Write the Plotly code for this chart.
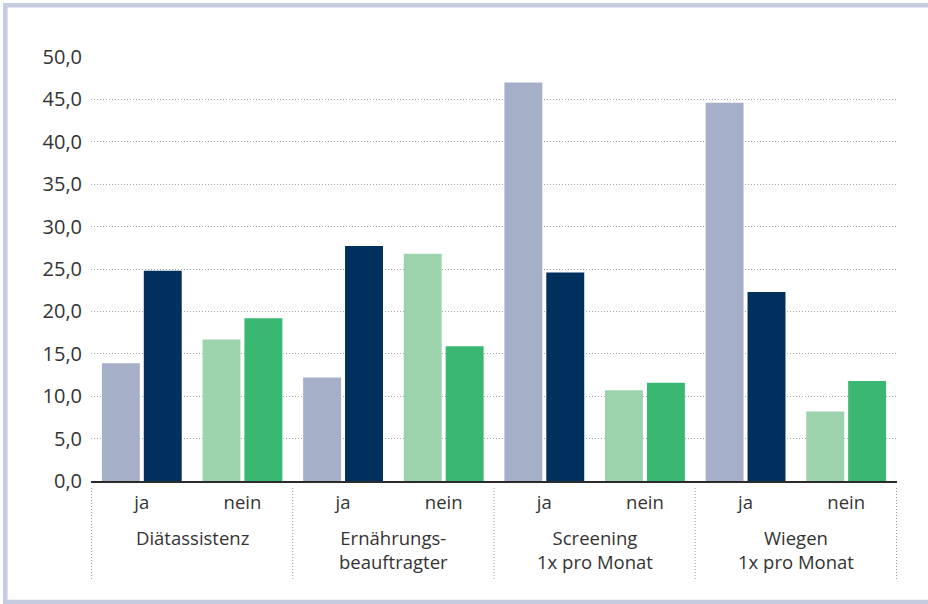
import plotly.graph_objects as go

# ---- data ----
groups = ["Diätassistenz", "Ernährungs-<br>beauftragter", "Screening<br>1x pro Monat", "Wiegen<br>1x pro Monat"]
answers = ["ja", "nein"]
series_a = [13.9, 16.7, 12.2, 26.8, 47.0, 10.7, 44.6, 8.2]   # lighter bars
series_b = [24.8, 19.2, 27.7, 15.9, 24.6, 11.6, 22.3, 11.8]  # darker bars
y_ticks = [0, 5, 10, 15, 20, 25, 30, 35, 40, 45, 50]

# colours: ja -> blue tones, nein -> green tones
colors_a = {"ja": "#a6afc8", "nein": "#9dd3ac"}
colors_b = {"ja": "#00305e", "nein": "#3ab770"}

cats = [f"{g}|{a}" for g in groups for a in answers]
tick_text = [a for g in groups for a in answers]
col_a = [colors_a[a] for g in groups for a in answers]
col_b = [colors_b[a] for g in groups for a in answers]

FONT = "Open Sans"
TXT = "#333333"

fig = go.Figure()
fig.add_trace(go.Bar(x=cats, y=series_a, marker=dict(color=col_a, line=dict(width=0)), name="Serie 1"))
fig.add_trace(go.Bar(x=cats, y=series_b, marker=dict(color=col_b, line=dict(width=0)), name="Serie 2"))

W, H = 928, 604
ml, mr, mt, mb = 91, 31, 57, 123
pw, ph = W - ml - mr, H - mt - mb

def px_x(x):
    return (x - ml) / pw

def px_y(y):
    return (H - mb - y) / ph

shapes = []
# frame (left, top, bottom)
shapes.append(dict(type="rect", xref="paper", yref="paper",
                   x0=px_x(5.3), x1=px_x(940), y0=px_y(602), y1=px_y(5.2),
                   line=dict(color="#c6cce0", width=4.5), fillcolor="rgba(0,0,0,0)", layer="below"))
# group dividers
n = len(answers)
for i in range(len(groups) + 1):
    xv = i * n - 0.5
    shapes.append(dict(type="line", xref="x", yref="paper", x0=xv, x1=xv,
                       y0=px_y(488), y1=px_y(580),
                       line=dict(color="#9a9a9a", width=1, dash="1px,2px")))

annotations = []
for i, g in enumerate(groups):
    annotations.append(dict(x=i * n + (n - 1) / 2, xref="x", y=px_y(523), yref="paper",
                            text=g, showarrow=False, xanchor="center", yanchor="top",
                            align="center", font=dict(family=FONT, size=18.5, color=TXT)))

fig.update_layout(
    width=W, height=H,
    margin=dict(l=ml, r=mr, t=mt, b=mb, pad=0),
    paper_bgcolor="white", plot_bgcolor="white",
    barmode="group", bargap=0.167, bargroupgap=0.095,
    showlegend=False,
    separators=",.",
    font=dict(family=FONT, color=TXT),
    shapes=shapes, annotations=annotations,
    xaxis=dict(type="category", tickvals=cats, ticktext=tick_text,
               showgrid=False, showline=True, linecolor="#2b2b2b", linewidth=2,
               ticks="", tickfont=dict(family=FONT, size=18.5, color=TXT),
               ticklabelstandoff=4, zeroline=False),
    yaxis=dict(range=[0, 50], tickvals=y_ticks, tickformat=".1f",
               showgrid=True, gridcolor="#a8a8a8", griddash="1px,2px", gridwidth=1,
               zeroline=False, showline=False, ticks="",
               tickfont=dict(family=FONT, size=20, color=TXT),
               ticklabelstandoff=8),
)

fig.write_html("out.html", config={"displayModeBar": False},
               post_script="document.body.style.margin='0';document.body.style.overflow='hidden';")
